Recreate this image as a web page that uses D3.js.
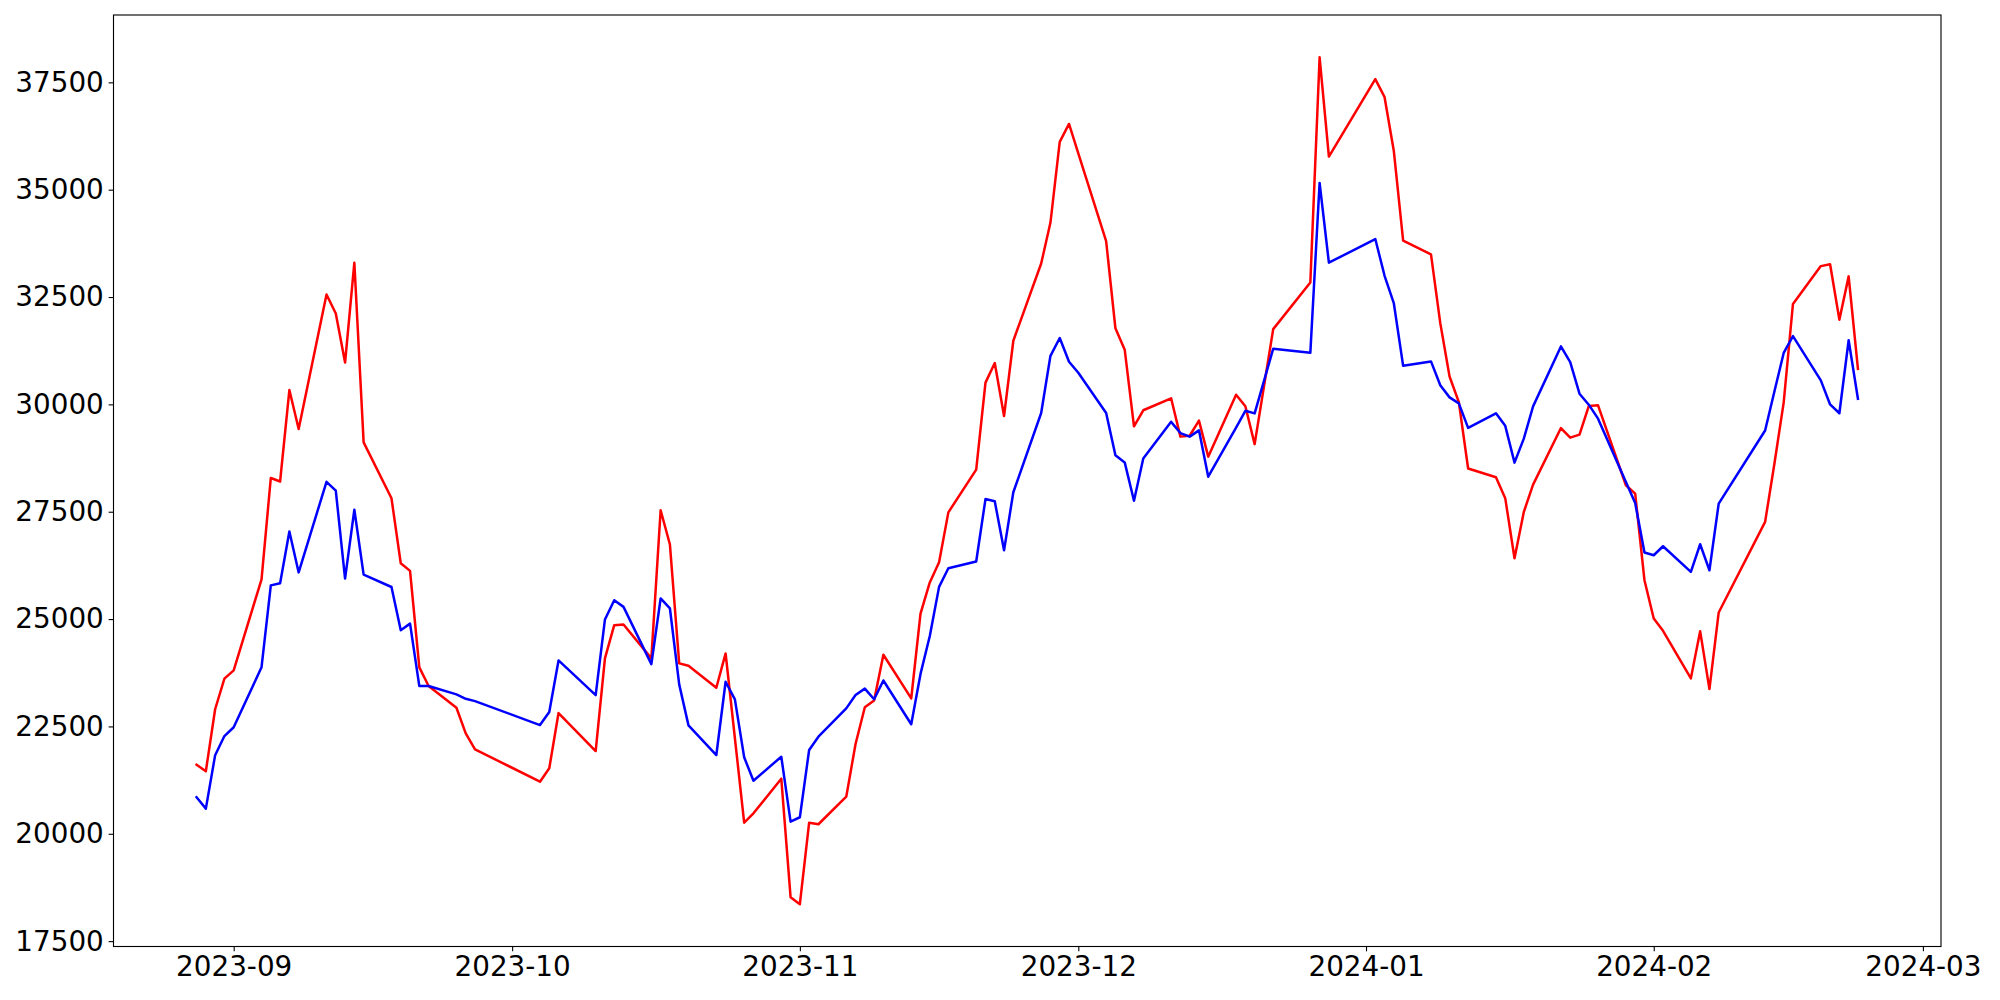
<!DOCTYPE html>
<html>
<head>
<meta charset="utf-8">
<script src="https://cdn.jsdelivr.net/npm/d3@7/dist/d3.min.js"></script>
<style>
  html, body { margin: 0; padding: 0; background: #ffffff; }
  svg { display: block; }
</style>
</head>
<body>
<svg id="chart" width="2000" height="1000"></svg>
<script>
// ---- data ----
const dates = [
  "2023-08-28","2023-08-29","2023-08-30","2023-08-31","2023-09-01",
  "2023-09-04","2023-09-05","2023-09-06","2023-09-07","2023-09-08",
  "2023-09-11","2023-09-12","2023-09-13","2023-09-14","2023-09-15",
  "2023-09-18","2023-09-19","2023-09-20","2023-09-21","2023-09-22",
  "2023-09-25","2023-09-26","2023-09-27",
  "2023-10-04","2023-10-05","2023-10-06",
  "2023-10-10","2023-10-11","2023-10-12","2023-10-13",
  "2023-10-16","2023-10-17","2023-10-18","2023-10-19","2023-10-20",
  "2023-10-23","2023-10-24","2023-10-25","2023-10-26","2023-10-27",
  "2023-10-30","2023-10-31","2023-11-01","2023-11-02","2023-11-03",
  "2023-11-06","2023-11-07","2023-11-08","2023-11-09","2023-11-10",
  "2023-11-13","2023-11-14","2023-11-15","2023-11-16","2023-11-17",
  "2023-11-20","2023-11-21","2023-11-22","2023-11-23","2023-11-24",
  "2023-11-27","2023-11-28","2023-11-29","2023-11-30","2023-12-01",
  "2023-12-04","2023-12-05","2023-12-06","2023-12-07","2023-12-08",
  "2023-12-11","2023-12-12","2023-12-13","2023-12-14","2023-12-15",
  "2023-12-18","2023-12-19","2023-12-20","2023-12-22",
  "2023-12-26","2023-12-27","2023-12-28",
  "2024-01-02","2024-01-03","2024-01-04","2024-01-05",
  "2024-01-08","2024-01-09","2024-01-10","2024-01-11","2024-01-12",
  "2024-01-15","2024-01-16","2024-01-17","2024-01-18","2024-01-19",
  "2024-01-22","2024-01-23","2024-01-24","2024-01-25","2024-01-26",
  "2024-01-29","2024-01-30","2024-01-31","2024-02-01","2024-02-02",
  "2024-02-05","2024-02-06","2024-02-07","2024-02-08",
  "2024-02-13","2024-02-14","2024-02-15","2024-02-16",
  "2024-02-19","2024-02-20","2024-02-21","2024-02-22","2024-02-23"
];

const redSeries = [
  21608, 21457, 22900, 23612, 23807,
  25927, 28286, 28204, 30333, 29426,
  32559, 32115, 30975, 33299, 29114,
  27813, 26301, 26122, 23875, 23440,
  22935, 22339, 21967,
  21213, 21525, 22811,
  21927, 24084, 24859, 24875,
  24084, 27534, 26736, 23968, 23912,
  23400, 24200, 22230, 20259, 20478,
  21283, 18524, 18361, 20259, 20222,
  20864, 22090, 22946, 23102, 24170,
  23153, 25126, 25854, 26322, 27485,
  28481, 30507, 30963, 29728, 31482,
  33280, 34234, 36114, 36531, 35844,
  33800, 31773, 31275, 29488, 29863,
  30142, 29249, 29270, 29623, 28783,
  30226, 29956, 29074, 31752,
  32839, 38082, 35772,
  37575, 37154, 35893, 33813,
  33492, 31892, 30649, 30051, 28507,
  28304, 27816, 26417, 27494, 28132,
  29449, 29226, 29295, 29961, 29977,
  28116, 27923, 25905, 25015, 24726,
  23619, 24719, 23370, 25154,
  27264, 28618, 30042, 32338,
  33220, 33264, 31973, 32981, 30826
];

const blueSeries = [
  20850, 20585, 21830, 22276, 22481,
  23879, 25785, 25836, 27039, 26087,
  28197, 27992, 25943, 27546, 26034,
  25747, 24742, 24894, 23440, 23440,
  23246, 23144, 23090,
  22532, 22835, 24037,
  23230, 24991, 25440, 25284,
  23951, 25480, 25247, 23479, 22525,
  21834, 23540, 23130, 21781, 21236,
  21795, 20282, 20385, 21951, 22260,
  22921, 23230, 23381, 23132, 23570,
  22551, 23723, 24607, 25750, 26185,
  26341, 27795, 27743, 26601, 27953,
  29800, 31131, 31545, 30994, 30735,
  29800, 28814, 28649, 27755, 28742,
  29593, 29332, 29249, 29395, 28316,
  29458, 29851, 29791, 31296,
  31201, 35158, 33299,
  33851, 32995, 32350, 30898,
  31001, 30447, 30163, 30023, 29453,
  29793, 29500, 28644, 29202, 29953,
  31350, 30984, 30249, 29993, 29668,
  28192, 27704, 26550, 26487, 26696,
  26099, 26743, 26138, 27690,
  29391, 30300, 31198, 31591,
  30558, 29998, 29793, 31494, 30130
];

const yTickValues = [17500, 20000, 22500, 25000, 27500, 30000, 32500, 35000, 37500];
const xTickLabels = ["2023-09", "2023-10", "2023-11", "2023-12", "2024-01", "2024-02", "2024-03"];

// ---- layout ----
const plot = { left: 113.5, right: 1941, top: 15, bottom: 946.5 };
const fontSize = 27.8;
const tickLen = 4.86;
const lineWidth = 2.5;

const parseDay = d3.utcParse("%Y-%m-%d");
const parseMonth = d3.utcParse("%Y-%m");
const dayVals = dates.map(parseDay);

// matplotlib-like 5% margins, computed from the data
const xExt = d3.extent(dayVals);
const xSpan = xExt[1] - xExt[0];
const xDomain = [new Date(+xExt[0] - 0.05 * xSpan), new Date(+xExt[1] + 0.05 * xSpan)];
const allVals = redSeries.concat(blueSeries);
const yExt = d3.extent(allVals);
const ySpan = yExt[1] - yExt[0];
const yDomain = [yExt[0] - 0.05 * ySpan, yExt[1] + 0.05 * ySpan];

const x = d3.scaleUtc().domain(xDomain).range([plot.left, plot.right]);
const y = d3.scaleLinear().domain(yDomain).range([plot.bottom, plot.top]);

const svg = d3.select("#chart");
svg.append("rect").attr("x", 0).attr("y", 0).attr("width", 2000).attr("height", 1000).attr("fill", "#ffffff");

const clip = svg.append("defs").append("clipPath").attr("id", "plotclip");
clip.append("rect").attr("x", plot.left).attr("y", plot.top)
  .attr("width", plot.right - plot.left).attr("height", plot.bottom - plot.top);

const lineGen = (vals) => d3.line()
  .x((d, i) => x(dayVals[i]))
  .y((d) => y(d))(vals);

const g = svg.append("g").attr("clip-path", "url(#plotclip)");
g.append("path").attr("d", lineGen(redSeries))
  .attr("fill", "none").attr("stroke", "#ff0000").attr("stroke-width", lineWidth)
  .attr("stroke-linejoin", "round").attr("stroke-linecap", "square");
g.append("path").attr("d", lineGen(blueSeries))
  .attr("fill", "none").attr("stroke", "#0000ff").attr("stroke-width", lineWidth)
  .attr("stroke-linejoin", "round").attr("stroke-linecap", "square");

// ---- axes ----
const xAxis = d3.axisBottom(x)
  .tickValues(xTickLabels.map(parseMonth))
  .tickFormat(d3.utcFormat("%Y-%m"))
  .tickSize(tickLen).tickPadding(4.86);
const yAxis = d3.axisLeft(y)
  .tickValues(yTickValues)
  .tickFormat(d3.format("d"))
  .tickSize(tickLen).tickPadding(4.86);

const gx = svg.append("g").attr("transform", `translate(0,${plot.bottom})`).call(xAxis);
const gy = svg.append("g").attr("transform", `translate(${plot.left},0)`).call(yAxis);
[gx, gy].forEach(ax => {
  ax.select(".domain").remove();
  ax.selectAll(".tick line").attr("stroke", "#000").attr("stroke-width", 1.11);
  ax.selectAll(".tick text")
    .attr("fill", "#000")
    .style("font-family", "'DejaVu Sans', sans-serif")
    .style("font-size", fontSize + "px");
});

// frame
svg.append("rect")
  .attr("x", plot.left).attr("y", plot.top)
  .attr("width", plot.right - plot.left).attr("height", plot.bottom - plot.top)
  .attr("fill", "none").attr("stroke", "#000").attr("stroke-width", 1.11);
</script>
</body>
</html>
